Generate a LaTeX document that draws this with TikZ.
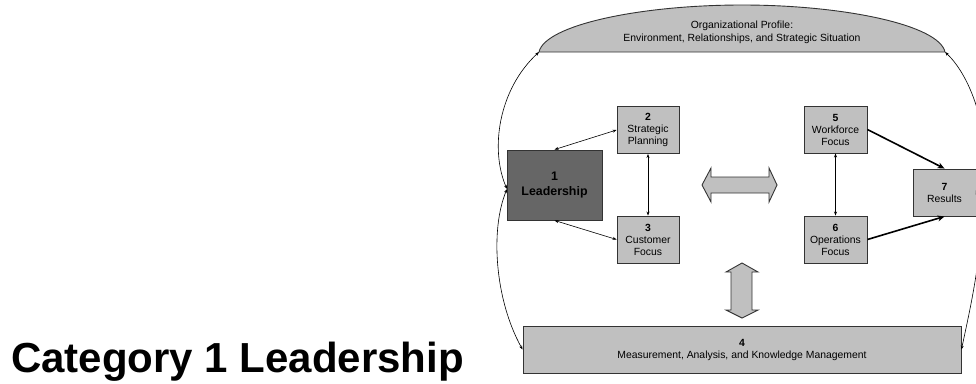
\documentclass[tikz,border=0pt]{standalone}
\usepackage{fontspec}
\setmainfont{Liberation Sans}
\usetikzlibrary{arrows.meta}
\definecolor{boxgray}{HTML}{C0C0C0}
\definecolor{leadgray}{HTML}{666666}
\definecolor{edge}{HTML}{333333}
\begin{document}
\begin{tikzpicture}[x=1pt,y=-1pt,
  box/.style={draw=edge, fill=boxgray, line width=0.9pt, inner sep=0pt, align=center,
    minimum width=62pt, minimum height=47pt, font=\fontsize{10.4}{12}\selectfont},
  leadbox/.style={box, fill=leadgray, minimum width=95pt, minimum height=70pt,
    font=\bfseries\fontsize{12.4}{15}\selectfont},
  thin/.style={line width=0.6pt, {Stealth[length=4pt,width=3pt]}-{Stealth[length=4pt,width=3pt]}},
  thick/.style={line width=1.6pt, -{Stealth[length=7pt,width=6pt]}},
  bigarrow/.style={draw=edge, fill=boxgray, line width=0.9pt, line join=miter},
  lbl/.style={align=center, inner sep=0pt, font=\fontsize{10.4}{13}\selectfont}]
\useasboundingbox (0,0) rectangle (976,383);
% Organizational profile dome
\coordinate (pl) at (539,52);
\coordinate (pr) at (945,52);
\draw[draw=edge, fill=boxgray, line width=0.9pt] (pl) .. controls (545,25) and (640,5) .. (742,5)
  .. controls (844,5) and (939,25) .. (pr) -- cycle;
\node[lbl] (prof) at (742,32) {Organizational Profile:\\Environment, Relationships, and Strategic Situation};
% boxes
\node[leadbox] (lead) at (554.5,185) {1\\Leadership};
\node[box] (s2) at (648,130) {\textbf{2}\\Strategic\\Planning};
\node[box] (s3) at (648,239.5) {\textbf{3}\\Customer\\Focus};
\node[box, minimum width=63pt] (s5) at (835.5,129.5) {\textbf{5}\\Workforce\\Focus};
\node[box, minimum width=63pt] (s6) at (835.5,239.5) {\textbf{6}\\Operations\\Focus};
\node[box, minimum width=63pt] (s7) at (944.5,192.5) {\textbf{7}\\Results};
\node[box, minimum width=438pt, minimum height=47pt] (s4) at (742,349.5) {\textbf{4}\\Measurement, Analysis, and Knowledge Management};
% connectors
\draw[thin] (lead.north) -- (s2.west);
\draw[thin] (lead.south) -- (s3.west);
\draw[thin] (s2.south) -- (s3.north);
\draw[thin] (s5.south) -- (s6.north);
\draw[thick] (s5.east) -- (s7.north);
\draw[thick] (s6.east) -- (s7.south);
% outer arcs
\coordinate (lm) at (507,189);
\coordinate (rm) at (976,190);
\draw[thin] (lm) .. controls (490,150) and (498,90) .. (pl);
\draw[thin] (lm) .. controls (490,230) and (495,300) .. (s4.west);
\draw[thin] (rm) .. controls (995,150) and (975,80) .. (pr);
\draw[thin] (rm) .. controls (988,230) and (972,300) .. (s4.east);
% big hollow double arrows
\draw[bigarrow] (702,185) -- (711,168) -- (711,177) -- (769,177) -- (769,168) -- (777,185)
  -- (769,202) -- (769,193) -- (711,193) -- (711,202) -- cycle;
\draw[bigarrow] (742,263) -- (758,272) -- (752,272) -- (752,310) -- (758,310) -- (742,318)
  -- (726,310) -- (731,310) -- (731,272) -- (726,272) -- cycle;
% title
\node[anchor=base west, inner sep=0pt, font=\bfseries\fontsize{42}{42}\selectfont] (title) at (11,372) {Category 1 Leadership};
\end{tikzpicture}
\end{document}
